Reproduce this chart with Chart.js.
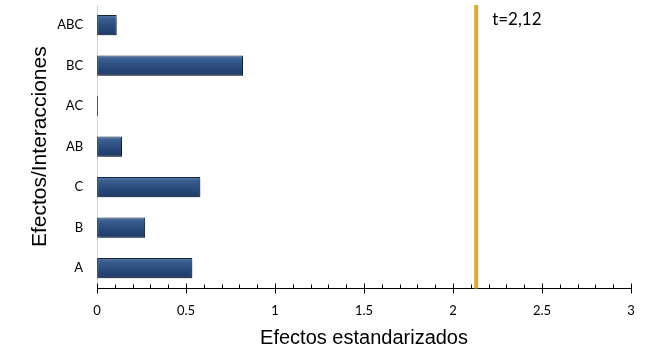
<!DOCTYPE html>
<html lang="es">
<head>
<meta charset="UTF-8">
<title>Efectos estandarizados</title>
<script src="https://cdn.jsdelivr.net/npm/chart.js@4.4.1/dist/chart.umd.min.js"></script>
<style>
  html, body { margin: 0; padding: 0; background: #fff; }
  #wrap { width: 663px; height: 358px; }
</style>
</head>
<body>
<div id="wrap"><canvas id="mychart"></canvas></div>
<script>
const efectos = ['ABC', 'BC', 'AC', 'AB', 'C', 'B', 'A'];
const valores = [0.11, 0.82, 0.005, 0.14, 0.58, 0.27, 0.535];
const tCritico = 2.13;
const tTexto = 't=2,12';

// degradado vertical de cada barra (efecto biselado)
function colorBarra(context) {
  const chart = context.chart;
  const y = chart.scales.y;
  if (!y || !chart.chartArea) return '#294b7c';
  const centro = y.getPixelForValue(context.dataIndex);
  const medio = (y.getPixelForValue(1) - y.getPixelForValue(0)) / 4;
  const g = chart.ctx.createLinearGradient(0, centro - medio, 0, centro + medio);
  g.addColorStop(0, '#5a7cad');
  g.addColorStop(0.18, '#3a5d8f');
  g.addColorStop(0.55, '#2a4b7c');
  g.addColorStop(1, '#1f3a66');
  return g;
}

// ticks del eje x (mayores cada 0.5, menores cada 0.1) y línea t crítica
const decoracion = {
  id: 'decoracion',
  beforeDatasetsDraw(chart) {
    const ctx = chart.ctx;
    ctx.save();
    ctx.shadowColor = 'rgba(0,0,0,0.35)';
    ctx.shadowBlur = 3;
    ctx.shadowOffsetX = 2;
    ctx.shadowOffsetY = 2;
  },
  afterDatasetsDraw(chart) {
    chart.ctx.restore();
  },
  afterDraw(chart) {
    const ctx = chart.ctx;
    const x = chart.scales.x;
    const yAxis = Math.round(x.top) + 0.5;
    ctx.save();
    ctx.strokeStyle = '#000';
    ctx.lineWidth = 1;
    for (let i = 0; i <= 30; i++) {
      const px = Math.round(x.getPixelForValue(i / 10)) + 0.5;
      ctx.beginPath();
      if (i % 5 === 0) {
        ctx.moveTo(px, yAxis - 5);
        ctx.lineTo(px, yAxis + 5);
      } else {
        ctx.moveTo(px, yAxis - 4);
        ctx.lineTo(px, yAxis);
      }
      ctx.stroke();
    }
    const area = chart.chartArea;
    const tx = x.getPixelForValue(tCritico);
    ctx.strokeStyle = '#e3a936';
    ctx.lineWidth = 4;
    ctx.beginPath();
    ctx.moveTo(tx, area.top);
    ctx.lineTo(tx, area.bottom);
    ctx.stroke();
    ctx.fillStyle = '#000';
    ctx.font = '17px Lato, "Open Sans", sans-serif';
    ctx.textBaseline = 'middle';
    ctx.fillText(tTexto, tx + 16, 20);
    ctx.restore();
  }
};

const ctx = document.getElementById('mychart');
new Chart(ctx, {
  type: 'bar',
  data: {
    labels: efectos,
    datasets: [{
      data: valores,
      backgroundColor: colorBarra,
      borderColor: '#132640',
      borderWidth: 1,
      borderSkipped: false,
      barPercentage: 0.5,
      categoryPercentage: 1
    }]
  },
  options: {
    indexAxis: 'y',
    responsive: true,
    maintainAspectRatio: false,
    animation: false,
    layout: { padding: { top: 5, right: 32, bottom: 8, left: 28 } },
    plugins: {
      legend: { display: false },
      tooltip: { enabled: false }
    },
    scales: {
      x: {
        min: 0,
        max: 3,
        ticks: {
          stepSize: 0.5,
          color: '#000',
          padding: 15,
          callback: (v) => String(Number(v)),
          font: { family: 'Lato, "Open Sans", sans-serif', size: 13 }
        },
        grid: { display: false, drawTicks: false },
        border: { display: true, color: '#000', width: 1 },
        title: {
          display: true,
          text: 'Efectos estandarizados',
          color: '#000',
          font: { family: 'Arial, "Liberation Sans", sans-serif', size: 20 },
          padding: { top: -8, bottom: 0 }
        }
      },
      y: {
        afterFit(scale) {
          scale.paddingTop = 0;
          scale.paddingBottom = 0;
        },
        ticks: {
          color: '#000',
          padding: 14,
          font: { family: 'Lato, "Open Sans", sans-serif', size: 13 }
        },
        grid: { display: false, drawTicks: false },
        border: { display: true, color: '#d4d4d4', width: 1 },
        title: {
          display: true,
          text: 'Efectos/Interacciones',
          color: '#000',
          font: { family: 'Arial, "Liberation Sans", sans-serif', size: 21 },
          padding: { top: 0, bottom: -10 }
        }
      }
    }
  },
  plugins: [decoracion]
});
</script>
</body>
</html>
